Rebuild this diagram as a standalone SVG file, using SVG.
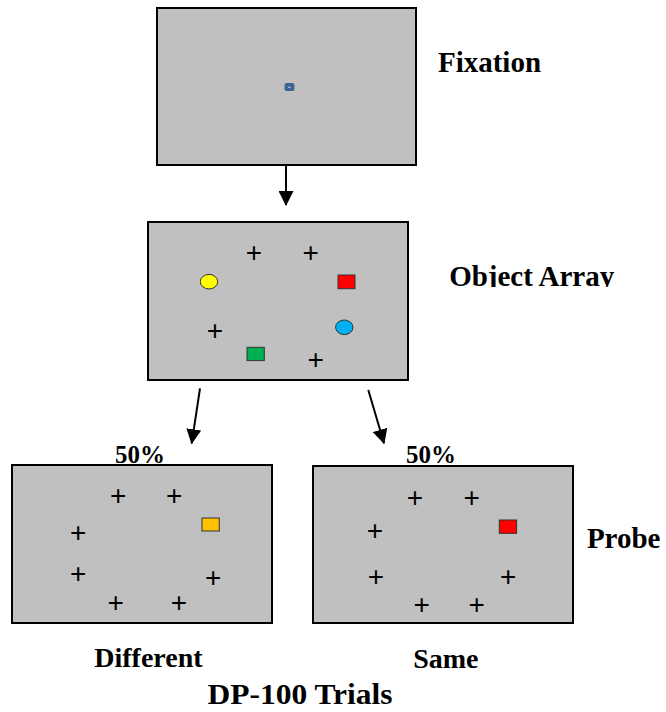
<svg xmlns="http://www.w3.org/2000/svg" width="666" height="712" viewBox="0 0 666 712">
<style>
.screen{fill:#c0c0c0;stroke:#000;stroke-width:2}
.lbl{font-family:"Liberation Serif","Times New Roman",serif;font-weight:bold;fill:#000}
.plus{font-family:"Liberation Sans",Arial,sans-serif;font-size:28px;fill:#000;text-anchor:middle}
.obj{stroke:#333;stroke-width:1}
.conn{stroke:#000;stroke-width:2;fill:none;marker-end:url(#arr)}
</style>
<defs>
<marker id="arr" markerUnits="userSpaceOnUse" markerWidth="15" markerHeight="15" refX="14" refY="7.5" orient="auto" viewBox="0 0 15 15">
<path d="M0,0 L15,7.5 L0,15 z" fill="#000"/>
</marker>
<clipPath id="clipOA"><rect x="420" y="240" width="246" height="47"/></clipPath>
</defs>
<rect width="666" height="712" fill="#fff"/>

<g id="fixation">
<rect class="screen" x="157" y="8" width="259" height="157"/>
<rect x="284.5" y="83" width="10" height="8" rx="2" fill="#3e6496"/>
<rect x="288.3" y="86.8" width="2.2" height="1" fill="#d8e0ec"/>
<text class="lbl" x="489.5" y="71.7" font-size="29" text-anchor="middle">Fixation</text>
</g>

<g id="object-array">
<rect class="screen" x="148" y="222" width="260" height="158"/>
<text class="plus" x="254" y="262.2">+</text>
<text class="plus" x="310.7" y="262.2">+</text>
<text class="plus" x="215" y="339.9">+</text>
<text class="plus" x="315.7" y="368.9">+</text>
<ellipse class="obj" cx="209" cy="281.7" rx="8.7" ry="7.3" fill="#ffff00"/>
<rect class="obj" x="338" y="275" width="17" height="13.7" fill="#ff0000"/>
<ellipse class="obj" cx="344.3" cy="327.3" rx="8.7" ry="7.3" fill="#00b0f0"/>
<rect class="obj" x="247" y="347.3" width="17.3" height="13.3" fill="#00b050"/>
<text class="lbl" x="531.7" y="286" font-size="29" text-anchor="middle" clip-path="url(#clipOA)">Object Array</text>
</g>

<g id="probe-different">
<text class="lbl" x="140" y="463" font-size="25" text-anchor="middle">50%</text>
<rect class="screen" x="12" y="465" width="260" height="158"/>
<text class="plus" x="118.3" y="504.9">+</text>
<text class="plus" x="174.3" y="504.9">+</text>
<text class="plus" x="78.3" y="542.2">+</text>
<text class="plus" x="78.3" y="583.2">+</text>
<text class="plus" x="213.3" y="586.6">+</text>
<text class="plus" x="115.7" y="611.6">+</text>
<text class="plus" x="179" y="611.6">+</text>
<rect class="obj" x="202" y="518" width="17.3" height="13" fill="#ffc000"/>
<text class="lbl" x="148.4" y="667.3" font-size="28" text-anchor="middle">Different</text>
</g>

<g id="probe-same">
<text class="lbl" x="431" y="463" font-size="25" text-anchor="middle">50%</text>
<rect class="screen" x="313" y="466" width="260" height="157"/>
<text class="plus" x="415" y="507.2">+</text>
<text class="plus" x="471.7" y="507.2">+</text>
<text class="plus" x="375" y="539.9">+</text>
<text class="plus" x="376" y="585.9">+</text>
<text class="plus" x="508.3" y="585.9">+</text>
<text class="plus" x="421.7" y="613.9">+</text>
<text class="plus" x="476.7" y="613.9">+</text>
<rect class="obj" x="499.3" y="520" width="17.3" height="13.3" fill="#ff0000"/>
<text class="lbl" x="445.8" y="668" font-size="28" text-anchor="middle">Same</text>
<text class="lbl" x="623.7" y="548.3" font-size="29" text-anchor="middle">Probe</text>
</g>

<g id="title">
<text class="lbl" x="300" y="704.3" font-size="30" text-anchor="middle" textLength="185" lengthAdjust="spacingAndGlyphs">DP-100 Trials</text>
</g>

<g id="connectors">
<line class="conn" x1="286" y1="166" x2="286" y2="205"/>
<line class="conn" x1="200" y1="388.3" x2="191.7" y2="443.3"/>
<line class="conn" x1="368.3" y1="390" x2="384" y2="443.3"/>
</g>
</svg>
